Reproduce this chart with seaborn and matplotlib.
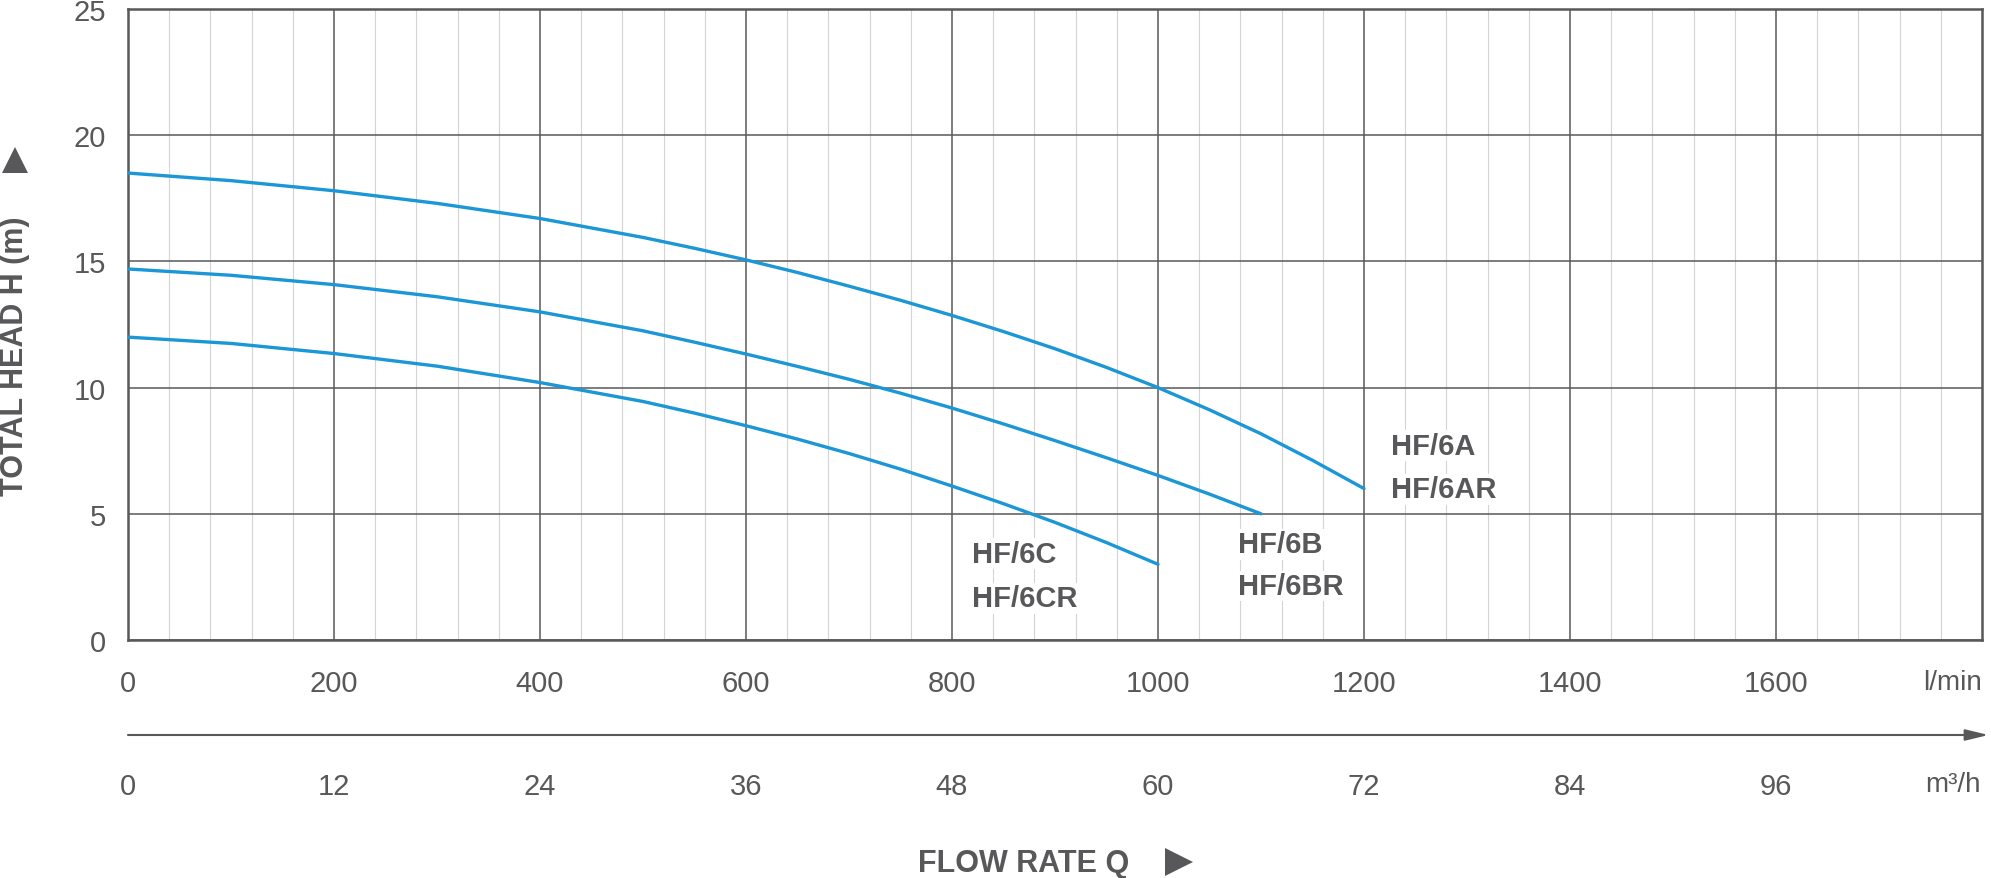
# coding:utf-8
# pump performance curves HF/6 series - head vs flow

import numpy as np
import pandas as pd
import matplotlib
matplotlib.use('Agg')
import matplotlib.pyplot as plt
import seaborn as sns
from matplotlib.lines import Line2D

# ---- data ----
flow_a = [0, 100, 200, 300, 400, 500, 550, 600, 650, 700, 750, 800, 850,
          900, 950, 1000, 1050, 1100, 1150, 1200]
head_a = [18.5, 18.2, 17.8, 17.3, 16.7, 15.95, 15.52, 15.06, 14.56, 14.02, 13.46,
          12.86, 12.22, 11.54, 10.8, 10.0, 9.12, 8.17, 7.12, 6.0]

flow_b = [0, 100, 200, 300, 400, 500, 550, 600, 650, 700, 750, 800, 850,
          900, 950, 1000, 1050, 1100]
head_b = [14.7, 14.45, 14.08, 13.6, 13.0, 12.25, 11.8, 11.33, 10.84, 10.33, 9.78,
          9.19, 8.56, 7.9, 7.22, 6.52, 5.78, 5.0]

flow_c = [0, 100, 200, 300, 400, 500, 550, 600, 650, 700, 750, 800, 850,
          900, 950, 1000]
head_c = [12.0, 11.75, 11.35, 10.85, 10.2, 9.45, 8.99, 8.49, 7.96, 7.39, 6.77,
          6.1, 5.4, 4.66, 3.86, 3.0]

models = ['HF/6A', 'HF/6B', 'HF/6C']
# curve labels (two lines each) and where they sit
label_text = [('HF/6A', 'HF/6AR'), ('HF/6B', 'HF/6BR'), ('HF/6C', 'HF/6CR')]
label_pos = [(1226, 7.69, 5.98), (1078, 3.80, 2.14), (819, 3.41, 1.66)]

lpm_ticks = [0, 200, 400, 600, 800, 1000, 1200, 1400, 1600]
m3h_ticks = [0, 12, 24, 36, 48, 60, 72, 84, 96]
head_ticks = [0, 5, 10, 15, 20, 25]

df = pd.concat([
    pd.DataFrame({'flow': flow_a, 'head': head_a, 'model': models[0]}),
    pd.DataFrame({'flow': flow_b, 'head': head_b, 'model': models[1]}),
    pd.DataFrame({'flow': flow_c, 'head': head_c, 'model': models[2]}),
])

sns.set_theme(style='white')
plt.rcParams['font.family'] = ['Liberation Sans', 'DejaVu Sans']

grey = '#58585a'
blue = '#1b96d6'
W, H = 1991, 879

fig = plt.figure(figsize=(W / 100, H / 100), dpi=100)
left, right, top, bottom = 128 / W, 1982 / W, 1 - 10 / H, 1 - 641 / H
ax = fig.add_axes([left, bottom, right - left, top - bottom])

sns.lineplot(data=df, x='flow', y='head', units='model', estimator=None,
             color=blue, lw=2.4, ax=ax, zorder=5, legend=False)

ax.set_xlim(0, 1800)
ax.set_ylim(0, 25)
ax.set_xticks(lpm_ticks)
ax.set_xticks(np.arange(0, 1801, 40), minor=True)
ax.set_yticks(head_ticks)
ax.set_xticklabels([str(t) for t in lpm_ticks])
ax.set_axisbelow(True)
ax.grid(which='minor', axis='x', color='#d4d4d4', lw=0.8)
ax.grid(which='major', axis='both', color=grey, lw=1.1)
ax.tick_params(which='both', length=0, labelsize=21, labelcolor=grey)
ax.tick_params(axis='x', pad=21)
ax.tick_params(axis='y', pad=16)
for s in ax.spines.values():
    s.set_visible(True)
    s.set_color(grey)
    s.set_linewidth(1.8)
ax.set_xlabel('')
ax.set_ylabel('')

# unit on the l/min scale
ax.text(1800, -0.0665, 'l/min', transform=ax.get_xaxis_transform(),
        ha='right', va='center', fontsize=20, color=grey)

# curve labels
for (t1, t2), (x, y1, y2) in zip(label_text, label_pos):
    for t, y in ((t1, y1), (t2, y2)):
        ax.text(x, y, t, ha='left', va='center', fontsize=21, fontweight='bold',
                color=grey, zorder=6,
                bbox=dict(fc='white', ec='none', pad=1))

# second scale in m3/h
ax2 = fig.add_axes([left, 1 - 736 / H, right - left, 0.0001])
ax2.set_xlim(0, 108)
ax2.set_xticks(m3h_ticks)
ax2.set_xticklabels([str(t) for t in m3h_ticks])
ax2.set_yticks([])
ax2.patch.set_alpha(0)
for s in ax2.spines.values():
    s.set_visible(False)
ax2.tick_params(axis='x', direction='out', length=9.5, width=1.4, color=grey,
                labelsize=21, labelcolor=grey, pad=17)
ax2.grid(False)
ax2.annotate('', xy=(1.0035, 0), xytext=(0, 0), xycoords='axes fraction',
             arrowprops=dict(arrowstyle='-|>,head_length=0.7,head_width=0.17',
                             mutation_scale=20, lw=1.5, color=grey,
                             shrinkA=0, shrinkB=0))
fig.text(1981 / W, 1 - 785 / H, 'm³/h', ha='right', va='center',
         fontsize=20, color=grey)

# axis titles with triangles
fig.text(15 / W, 1 - 356 / H, 'TOTAL HEAD H (m)', rotation=90, ha='center',
         va='center', fontsize=22, fontweight='bold', color=grey)
fig.text(1024 / W, 1 - 864 / H, 'FLOW RATE Q', ha='center', va='center',
         fontsize=22, fontweight='bold', color=grey)
fig.add_artist(Line2D([15 / W], [1 - 161 / H], marker='^', ms=19, mew=0,
                      color=grey, transform=fig.transFigure))
fig.add_artist(Line2D([1179 / W], [1 - 863 / H], marker='>', ms=20, mew=0,
                      color=grey, transform=fig.transFigure))

plt.savefig('out.png', dpi=100)
